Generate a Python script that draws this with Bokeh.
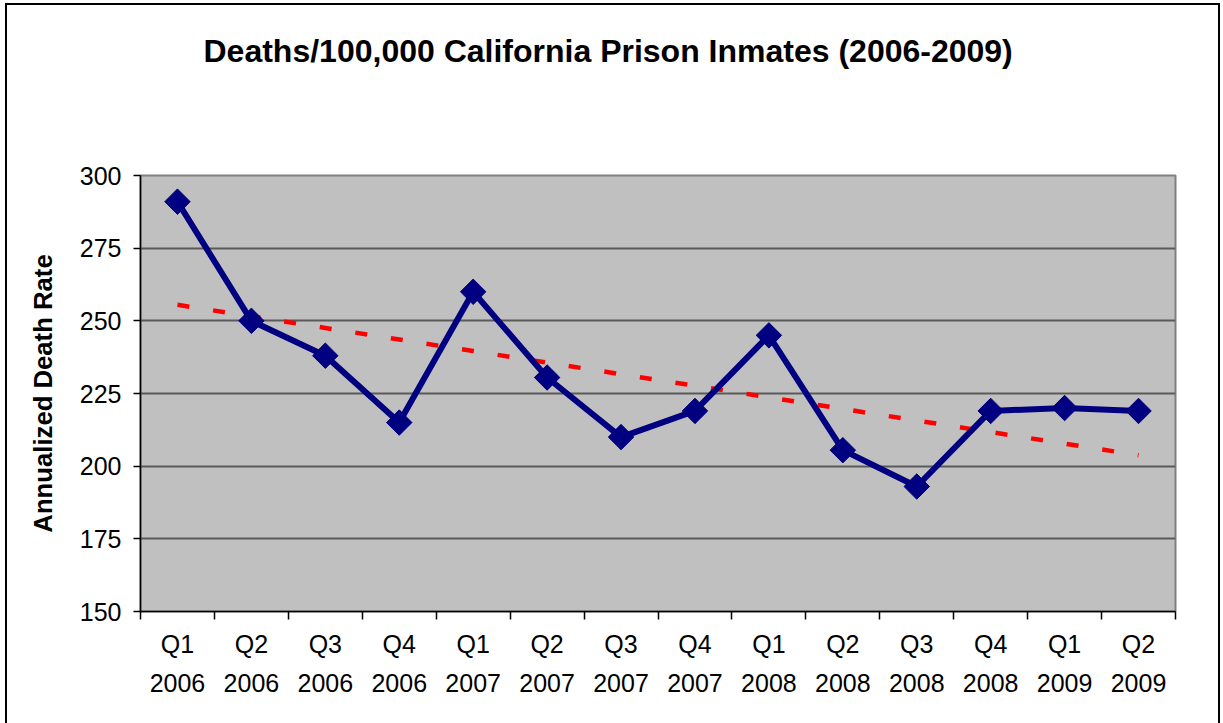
import numpy as np
from bokeh.plotting import figure
from bokeh.models import Range1d, FixedTicker, LinearAxis, Title
from bokeh.embed import file_html
from bokeh.resources import INLINE

# Quarterly annualized death rate per 100,000 inmates
quarters = ["Q1", "Q2", "Q3", "Q4", "Q1", "Q2", "Q3", "Q4",
            "Q1", "Q2", "Q3", "Q4", "Q1", "Q2"]
years = ["2006", "2006", "2006", "2006", "2007", "2007", "2007", "2007",
         "2008", "2008", "2008", "2008", "2009", "2009"]
death_rate = [291, 250, 238, 215, 260, 230.5, 210, 219,
              245, 205.5, 193, 219, 220, 219]
y_ticks = [150, 175, 200, 225, 250, 275, 300]

x = list(range(1, len(death_rate) + 1))

# Least-squares linear trend across the quarters
slope, intercept = np.polyfit(x, death_rate, 1)
trend = [slope * xi + intercept for xi in x]

FONT = "Liberation Sans"

p = figure(width=1223, height=723, output_backend="svg", toolbar_location=None,
           x_range=Range1d(0.5, len(x) + 0.5), y_range=Range1d(150, 300),
           min_border_left=140, min_border_right=48,
           min_border_top=175, min_border_bottom=112,
           background_fill_color="#C0C0C0", border_fill_color=None,
           x_axis_type=None)

# Chart border drawn on the page element behind the transparent canvas margin
p.styles = {
    "background-color": "white",
    "background-image": ("linear-gradient(black, black), "
                         "linear-gradient(black, black), "
                         "linear-gradient(black, black)"),
    "background-size": "2px 100%, 1215px 2px, 2px 100%",
    "background-position": "5px 3px, 5px 3px, 1218px 3px",
    "background-repeat": "no-repeat",
}

p.outline_line_color = "#808080"
p.outline_line_width = 2

# Gap between the plot area and the chart title
p.add_layout(Title(text=" ", text_font_size="1px", standoff=104), "above")

# Chart title
p.add_layout(Title(text="Deaths/100,000 California Prison Inmates (2006-2009)",
                   text_font=FONT, text_font_size="32px", text_font_style="bold",
                   text_color="black", align="left", offset=63, standoff=0),
             "above")

# Y axis
p.yaxis.ticker = FixedTicker(ticks=y_ticks, minor_ticks=[])
p.yaxis.axis_line_color = "black"
p.yaxis.axis_line_width = 1.5
p.yaxis.major_tick_out = 7
p.yaxis.major_tick_in = 0
p.yaxis.major_tick_line_width = 1.5
p.yaxis.major_label_standoff = 12
p.yaxis.major_label_text_font = FONT
p.yaxis.major_label_text_font_size = "25px"
p.yaxis.major_label_text_color = "black"
p.yaxis.axis_label = "Annualized Death Rate"
p.yaxis.axis_label_text_font = FONT
p.yaxis.axis_label_text_font_size = "25.7px"
p.yaxis.axis_label_text_font_style = "bold"
p.yaxis.axis_label_text_color = "black"
p.yaxis.axis_label_standoff = 20

p.ygrid.ticker = FixedTicker(ticks=y_ticks[1:])
p.ygrid.grid_line_color = "#5a5a5a"
p.ygrid.grid_line_width = 2
p.xgrid.visible = False

# X axis: quarter labels at category centres, tick marks between categories
boundaries = [xi - 0.5 for xi in x] + [x[-1] + 0.5]
ax_q = LinearAxis(ticker=FixedTicker(ticks=x, minor_ticks=boundaries),
                  major_label_overrides={xi: q for xi, q in zip(x, quarters)})
ax_q.axis_line_color = "black"
ax_q.axis_line_width = 1.5
ax_q.major_tick_line_color = None
ax_q.major_tick_out = 0
ax_q.major_tick_in = 0
ax_q.minor_tick_out = 8
ax_q.minor_tick_in = 0
ax_q.minor_tick_line_color = "black"
ax_q.minor_tick_line_width = 1.5
ax_q.major_label_standoff = 10
ax_q.major_label_text_font = FONT
ax_q.major_label_text_font_size = "25px"
ax_q.major_label_text_color = "black"
p.add_layout(ax_q, "below")

# Second row of labels: years
ax_y = LinearAxis(ticker=FixedTicker(ticks=x, minor_ticks=[]),
                  major_label_overrides={xi: yr for xi, yr in zip(x, years)})
ax_y.axis_line_color = None
ax_y.major_tick_line_color = None
ax_y.minor_tick_line_color = None
ax_y.major_tick_out = 0
ax_y.major_tick_in = 0
ax_y.major_label_standoff = 13
ax_y.major_label_text_font = FONT
ax_y.major_label_text_font_size = "25px"
ax_y.major_label_text_color = "black"
p.add_layout(ax_y, "below")

# Trend line
p.line(x, trend, line_color="#FF0000", line_width=4.5, line_dash="12 24")

# Death rate series
p.line(x, death_rate, line_color="#000080", line_width=6)
p.scatter(x, death_rate, marker="square", size=18, angle=np.pi / 4,
          fill_color="#000080", line_color="#000080")

open("out.html", "w").write(file_html(p, INLINE))
